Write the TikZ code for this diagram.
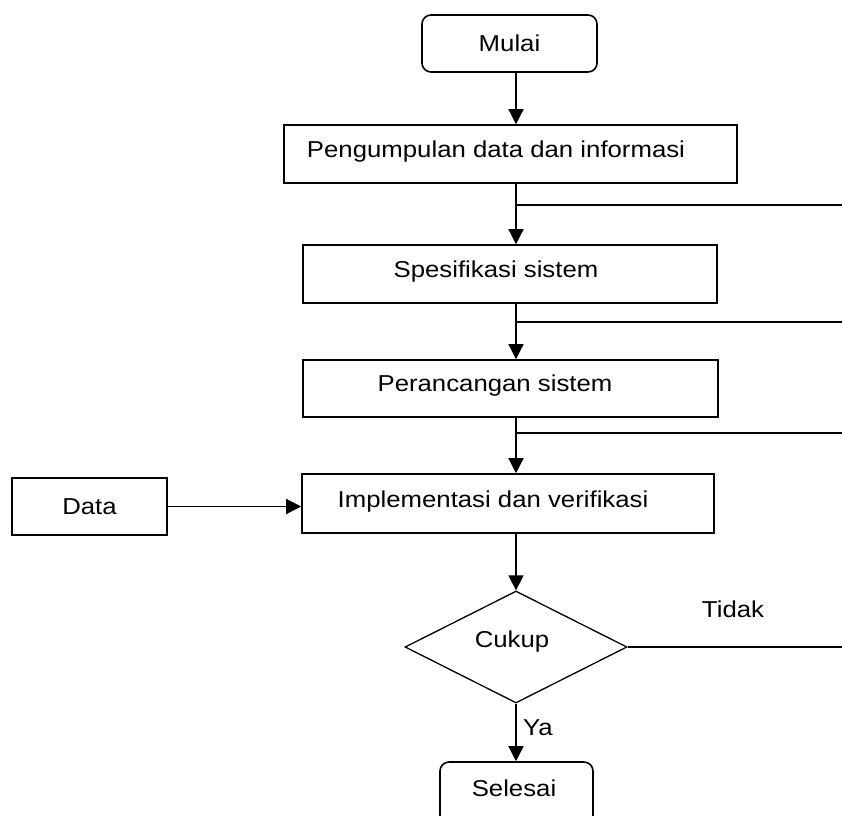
\documentclass[tikz,border=0pt]{standalone}
\usepackage{fontspec}
\setmainfont[FakeStretch=1.12]{Liberation Sans}
\usetikzlibrary{shapes.geometric,arrows.meta}
\begin{document}
\begin{tikzpicture}[x=1pt,y=-1pt,
  font=\fontsize{23}{27}\selectfont,
  every node/.style={line width=1.6pt},
  procbox/.style={draw, rectangle, inner sep=0pt},
  termbox/.style={draw, rectangle, rounded corners=9pt, inner sep=0pt},
  decision/.style={draw, diamond, inner sep=0pt, line width=1.3pt},
  flow/.style={line width=1.4pt, -{Triangle[length=15pt,width=15pt]}},
  link/.style={line width=1.4pt}]
\useasboundingbox (0,0) rectangle (842,815);
\begin{scope}
\clip (0,0) rectangle (842,815);

% boxes
\node[termbox, minimum width=175pt, minimum height=57pt] (mulai) at (509.5,43.5) {Mulai};
\node[procbox, minimum width=453pt, minimum height=58pt] (kumpul) at (510.5,154) {};
\node[procbox, minimum width=414pt, minimum height=58pt] (spek) at (510,274) {};
\node[procbox, minimum width=415pt, minimum height=57pt] (rancang) at (510.5,388.5) {};
\node[procbox, minimum width=412pt, minimum height=59pt] (impl) at (508,503.5) {};
\node[procbox, minimum width=155pt, minimum height=57pt] (data) at (89.5,506.5) {Data};
\node[decision, minimum width=222pt, minimum height=112pt] (cukup) at (516,647) {};
\node[termbox, minimum width=153pt, minimum height=68pt] (selesai) at (516.5,796) {};

% box texts, set a little left of the box centres
\node (kumpultxt) at (496,152) {Pengumpulan data dan informasi};
\node (spektxt) at (496,272) {Spesifikasi sistem};
\node (rancangtxt) at (495,386) {Perancangan sistem};
\node (impltxt) at (493,502) {Implementasi dan verifikasi};
\node (cukuptxt) at (512,642) {Cukup};
\node (selesaitxt) at (514,788) {Selesai};

% main flow line
\coordinate (trunk) at (516,0);
\draw[flow] (mulai.south -| trunk) -- (kumpul.north -| trunk);
\draw[flow] (kumpul.south -| trunk) -- (spek.north -| trunk);
\draw[flow] (spek.south -| trunk) -- (rancang.north -| trunk);
\draw[flow] (rancang.south -| trunk) -- (impl.north -| trunk);
\draw[flow] (impl.south -| trunk) -- (cukup.north);
\draw[flow] (cukup.south) -- (selesai.north -| cukup.south);
\draw[flow] (data.east) -- (impl.west |- data.east);

% return lines to the right edge
\coordinate (r1) at (516,205);  \coordinate (r1e) at (842,205);
\coordinate (r2) at (516,322);  \coordinate (r2e) at (842,322);
\coordinate (r3) at (516,433);  \coordinate (r3e) at (842,433);
\coordinate (r4e) at (842,647);
\draw[link] (r1) -- (r1e);
\draw[link] (r2) -- (r2e);
\draw[link] (r3) -- (r3e);
\draw[link] (cukup.east) -- (r4e);

% branch labels
\node (tidak) at (733,609) {Tidak};
\node[anchor=west] (ya) at (519,728) {Ya};
\end{scope}
\end{tikzpicture}
\end{document}
